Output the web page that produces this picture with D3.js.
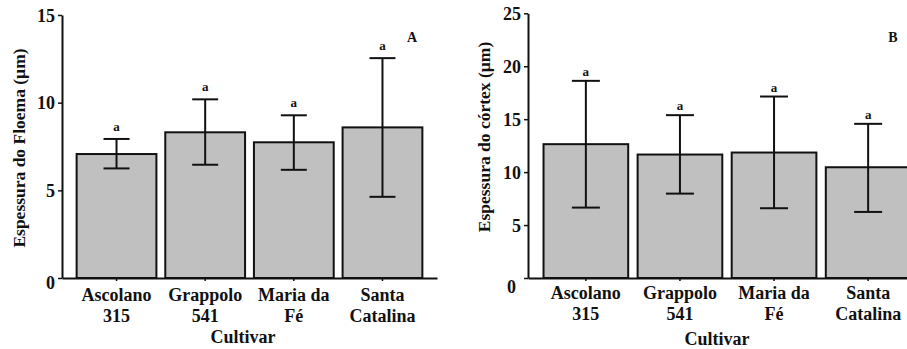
<!DOCTYPE html>
<html>
<head>
<meta charset="utf-8">
<script src="https://cdn.jsdelivr.net/npm/d3@7"></script>
</head>
<body style="margin:0; background:#fff">
<div class="canvas"></div>
<script>
// data
const cultivars = ["Ascolano 315", "Grappolo 541", "Maria da Fé", "Santa Catalina"];
const cultivarLines = [["Ascolano", "315"], ["Grappolo", "541"], ["Maria da", "Fé"], ["Santa", "Catalina"]];
const letters = ["a", "a", "a", "a"];

const floemaMean = [7.07, 8.31, 7.74, 8.59];
const floemaUpper = [7.93, 10.19, 9.28, 12.54];
const floemaLower = [6.25, 6.46, 6.17, 4.63];
const floemaTicks = [0, 5, 10, 15];

const cortexMean = [12.64, 11.66, 11.85, 10.46];
const cortexUpper = [18.62, 15.38, 17.14, 14.56];
const cortexLower = [6.65, 7.97, 6.59, 6.24];
const cortexTicks = [0, 5, 10, 15, 20, 25];

const svgWidth = 907;
const svgHeight = 349;
const serif = "'Liberation Serif'";
const ink = "#111";

const svg = d3.select('.canvas').append('svg')
  .attr("width", svgWidth)
  .attr("height", svgHeight);

svg.append('rect')
  .attr("width", svgWidth)
  .attr("height", svgHeight)
  .attr("fill", "#fff");

// bold serif text, styled inline
function styleText(sel, size) {
  return sel.style("font-family", serif)
    .style("font-weight", "bold")
    .style("font-size", size + "px")
    .style("fill", ink);
}

function drawPanel(p) {
  const data = cultivars.map((c, i) => ({
    name: c, mean: p.mean[i], upper: p.upper[i], lower: p.lower[i], letter: letters[i]
  }));

  const yScale = d3.scaleLinear()
    .domain([0, d3.max(p.ticks)])
    .range([p.bottom, p.top]);

  const xScale = d3.scaleBand()
    .domain(cultivars)
    .range([p.left, p.right])
    .paddingInner(0.1)
    .paddingOuter(0.165);

  const g = svg.append('g');

  // bars
  g.selectAll('rect.bar')
    .data(data)
    .enter().append('rect')
    .attr("class", "bar")
    .attr("x", d => xScale(d.name))
    .attr("y", d => yScale(d.mean))
    .attr("width", xScale.bandwidth())
    .attr("height", d => yScale(0) - yScale(d.mean))
    .attr("fill", "#c0c0c0")
    .attr("stroke", ink)
    .attr("stroke-width", 2);

  // error bars
  const cx = d => xScale(d.name) + xScale.bandwidth() / 2;
  const err = g.selectAll('g.err').data(data).enter().append('g')
    .attr("stroke", ink).attr("stroke-width", 2);
  err.append('line')
    .attr("x1", cx).attr("x2", cx)
    .attr("y1", d => yScale(d.upper)).attr("y2", d => yScale(d.lower));
  err.append('line')
    .attr("x1", d => cx(d) - p.cap).attr("x2", d => cx(d) + p.cap)
    .attr("y1", d => yScale(d.upper)).attr("y2", d => yScale(d.upper));
  err.append('line')
    .attr("x1", d => cx(d) - p.cap).attr("x2", d => cx(d) + p.cap)
    .attr("y1", d => yScale(d.lower)).attr("y2", d => yScale(d.lower));

  // letters above the bars
  styleText(g.selectAll('text.letter')
    .data(data)
    .enter().append('text')
    .attr("class", "letter")
    .attr("x", cx)
    .attr("y", d => yScale(d.upper) - p.letterGap)
    .attr("text-anchor", "middle")
    .text(d => d.letter), 13);

  // axes
  const xAxis = d3.axisBottom(xScale).tickSize(3).tickSizeOuter(0).tickFormat("");
  const yAxis = d3.axisLeft(yScale).tickValues(p.ticks).tickSize(4).tickSizeOuter(0).tickPadding(3);

  const xAxisGroup = g.append('g')
    .attr("transform", `translate(0 ${p.bottom})`)
    .call(xAxis);
  const yAxisGroup = g.append('g')
    .attr("transform", `translate(${p.left} 0)`)
    .call(yAxis);

  [xAxisGroup, yAxisGroup].forEach(ax => {
    ax.attr("font-family", null);
    ax.select('.domain').attr("stroke", ink).attr("stroke-width", 2);
    ax.selectAll('.tick line').attr("stroke", ink).attr("stroke-width", 1.5);
  });

  styleText(yAxisGroup.selectAll('.tick text'), 18)
    .attr("dy", d => d === 0 ? p.zeroDy : "0.34em")
    .attr("dx", d => d === 0 ? p.zeroDx : 0);

  // two-line category labels
  const labels = styleText(xAxisGroup.selectAll('.tick').append('text')
    .attr("text-anchor", "middle"), 18);
  labels.append('tspan').attr("x", 0).attr("y", p.lab1).text((d, i) => cultivarLines[i][0]);
  labels.append('tspan').attr("x", 0).attr("y", p.lab2).text((d, i) => cultivarLines[i][1]);

  // axis titles
  styleText(svg.append('text')
    .attr("x", p.titleX)
    .attr("y", p.titleY)
    .attr("text-anchor", "middle")
    .text("Cultivar"), 18);

  styleText(svg.append('text')
    .attr("transform", `translate(${p.yLabX} ${p.yLabY}) rotate(-90)`)
    .attr("text-anchor", "middle")
    .text(p.yLabel), 17.5);

  // panel letter
  styleText(svg.append('text')
    .attr("x", p.tagX)
    .attr("y", p.tagY)
    .attr("text-anchor", "middle")
    .text(p.tag), 14);
}

drawPanel({
  mean: floemaMean, upper: floemaUpper, lower: floemaLower, ticks: floemaTicks,
  left: 62, right: 437, top: 15, bottom: 278, cap: 13, letterGap: 8,
  zeroDy: "0.6em", zeroDx: 0,
  lab1: 23, lab2: 44, titleX: 243, titleY: 343,
  yLabX: 25, yLabY: 148, yLabel: "Espessura do Floema (µm)",
  tag: "A", tagX: 412, tagY: 42
});

drawPanel({
  mean: cortexMean, upper: cortexUpper, lower: cortexLower, ticks: cortexTicks,
  left: 528, right: 926, top: 13.3, bottom: 278, cap: 14, letterGap: 5,
  zeroDy: "0.8em", zeroDx: -5,
  lab1: 21, lab2: 42, titleX: 717, titleY: 345,
  yLabX: 490, yLabY: 137, yLabel: "Espessura do córtex (µm)",
  tag: "B", tagX: 893, tagY: 42
});
</script>
</body>
</html>
